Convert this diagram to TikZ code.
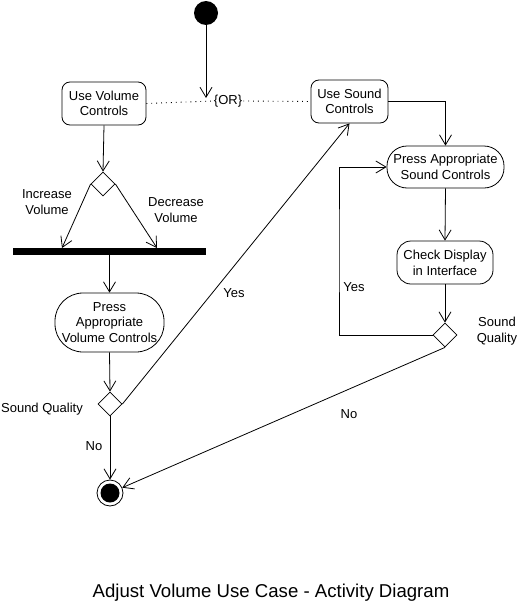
\documentclass[tikz,border=0pt]{standalone}
\usepackage{fontspec}
\setmainfont{Liberation Sans}
\usetikzlibrary{arrows.meta,shapes.geometric}
\begin{document}
\begin{tikzpicture}[x=1pt,y=-1pt,
  every node/.style={font=\fontsize{13}{15.7}\selectfont},
  line/.style={line width=0.8pt},
  dots/.style={line width=0.9pt, dash pattern=on 0.9pt off 4pt},
  arr/.style={line, -{Straight Barb[length=10pt,width=12pt,line width=0.8pt]}},
  act/.style={draw, line width=0.8pt, align=center, inner sep=0pt},
  dec/.style={draw, diamond, line width=0.8pt, minimum width=24pt, minimum height=24pt, inner sep=0pt, aspect=1},
  lbl/.style={align=center, inner sep=0pt}]
\useasboundingbox (0,0) rectangle (518,605);
% nodes
\node[circle, fill=black, minimum size=24pt, inner sep=0pt] (start) at (206,13) {};
\node[act, rounded corners=8pt, minimum width=84pt, minimum height=43pt] (uvc) at (104,103.5) {Use Volume\\Controls};
\node[act, rounded corners=8pt, minimum width=77pt, minimum height=43pt] (usc) at (349.5,101.5) {Use Sound\\Controls};
\node[lbl, fill=white, inner xsep=1pt] (or) at (228,101) {\{OR\}};
\coordinate (orpt) at (206,98);
\node[act, rounded corners=20pt, minimum width=117pt, minimum height=42pt] (pasc) at (445.5,167) {Press Appropriate\\Sound Controls};
\node[act, rounded corners=14pt, minimum width=96pt, minimum height=43pt] (cdi) at (445,262.5) {Check Display\\in Interface};
\node[dec] (d2) at (445,335) {};
\node[dec] (d1) at (103,184) {};
\node[fill=black, minimum width=193pt, minimum height=7pt, inner sep=0pt] (bar) at (109.5,251.5) {};
\coordinate (barL) at (62,248);
\coordinate (barR) at (157,248);
\node[act, rounded corners=28pt, minimum width=109pt, minimum height=59pt] (pavc) at (109.5,322.5) {Press\\Appropriate\\Volume Controls};
\node[dec] (d3) at (110,404) {};
\node[circle, draw, line width=0.8pt, minimum size=26pt, inner sep=0pt] (final) at (110,493) {};
\node[circle, fill=black, minimum size=19pt, inner sep=0pt] (finalin) at (110,493) {};
\coordinate (loop) at (339,250);
% labels
\node[lbl] (l1) at (47,202) {Increase\\Volume};
\node[lbl] (l2) at (176,210) {Decrease\\Volume};
\node[lbl] (l3) at (234,293) {Yes};
\node[lbl, anchor=east] (l4) at (83,409) {Sound Quality};
\node[lbl] (l5) at (94,446) {No};
\node[lbl] (l6) at (354,287) {Yes};
\node[lbl] (l7) at (497,331) {Sound\\Quality};
\node[lbl] (l8) at (349,414) {No};
\node[lbl, font=\fontsize{18.6}{22}\selectfont] (title) at (271,593) {Adjust Volume Use Case - Activity Diagram};
% connectors
\draw[arr] (start) -- (orpt);
\draw[dots] (uvc.east) -- (or.west);
\draw[dots] (or.east) -- (usc.west);
\draw[arr] (usc.east) -| (pasc.north);
\draw[arr] (pasc.south) -- (cdi.north);
\draw[arr] (cdi.south) -- (d2.north);
\draw[arr] (d2.west) -| (loop) |- (pasc.west);
\draw[arr] (d2.south) -- (final);
\draw[arr] (uvc.south) -- (d1.north);
\draw[arr] (d1.west) -- (barL);
\draw[arr] (d1.east) -- (barR);
\draw[arr] (bar.south -| pavc.north) -- (pavc.north);
\draw[arr] (pavc.south) -- (d3.north);
\draw[arr] (d3.east) -- (usc.south);
\draw[arr] (d3.south) -- (final.north);
\end{tikzpicture}
\end{document}
